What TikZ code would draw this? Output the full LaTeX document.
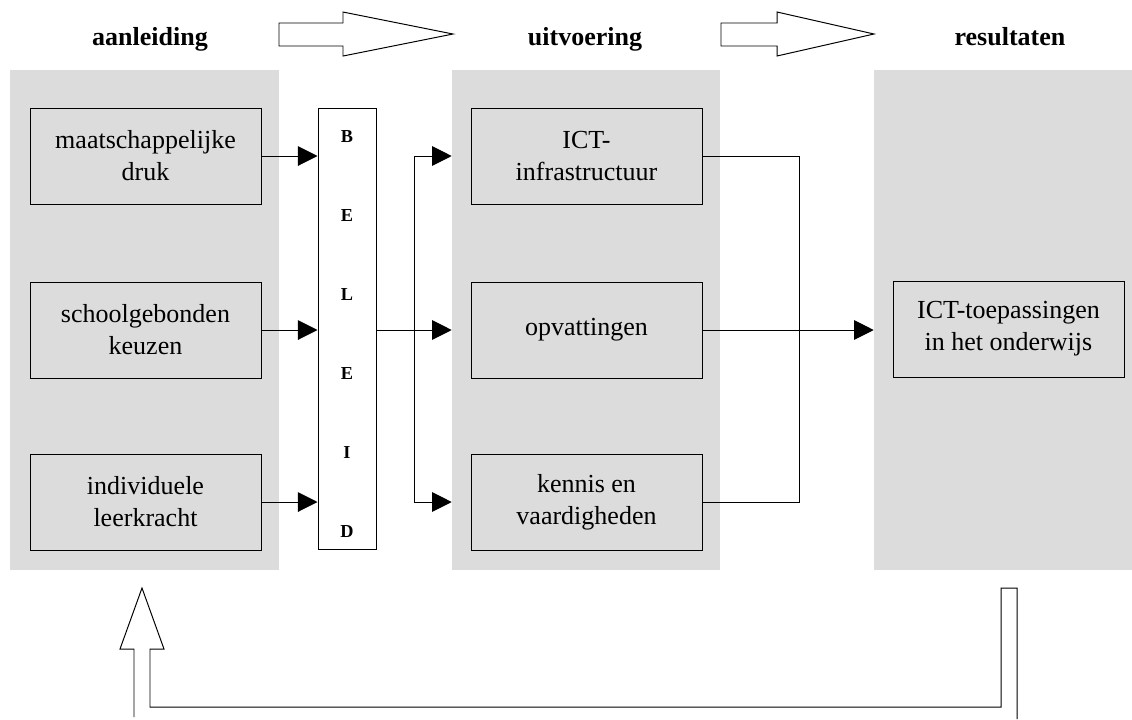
\documentclass[tikz,border=0pt]{standalone}
\usepackage{fontspec}
\setmainfont{Liberation Serif}
\usetikzlibrary{positioning, arrows.meta, calc}
\definecolor{paneelgrijs}{RGB}{220,220,220}
\def\eenh{0.025cm}
\newcommand\bloktekst{\fontsize{18.5pt}{22.8pt}\selectfont}
\newcommand\koptekst{\bfseries\fontsize{18.5pt}{22pt}\selectfont}
\newcommand\lettertekst{\bfseries\fontsize{13pt}{15pt}\selectfont}

\begin{document}
\begin{tikzpicture}[x=\eenh, y=-\eenh,
    paneel/.style={fill=paneelgrijs, inner sep=0pt, minimum height=500*\eenh},
    blok/.style={draw, fill=paneelgrijs, line width=0.7pt, inner sep=0pt, minimum width=231*\eenh, minimum height=96*\eenh, align=center, font=\bloktekst},
    kop/.style={font=\koptekst, anchor=base},
    lijn/.style={line width=0.7pt},
    pijl/.style={-{Triangle[length=14pt, width=14pt]}, line width=0.7pt},
    tweepijl/.style={{Triangle[length=14pt, width=14pt]}-{Triangle[length=14pt, width=14pt]}, line width=0.7pt}]
    \useasboundingbox (0,0) rectangle (1132,719);

    % Grijze panelen
    \node[paneel, minimum width=269*\eenh] (aanl) at (144.5,320) {};
    \node[paneel, minimum width=268*\eenh] (uitv) at (586,320) {};
    \node[paneel, minimum width=258*\eenh] (res) at (1003,320) {};

    % Koppen
    \node[kop] (kop1) at (150,45) {aanleiding};
    \node[kop] (kop2) at (585,45) {uitvoering};
    \node[kop] (kop3) at (1010,45) {resultaten};

    % Open pijlen tussen de koppen
    \draw[lijn, fill=white] (279,23) -- (343,23) -- (343,12) -- (453,34) -- (343,56) -- (343,46) -- (279,46) -- cycle;
    \draw[lijn, fill=white] (721,23) -- (777,23) -- (777,12) -- (874,34) -- (777,56) -- (777,46) -- (721,46) -- cycle;

    % Aanleiding
    \node[blok] (druk) at (145.5,156) {maatschappelijke\\druk};
    \node[blok] (school) at (145.5,330) {schoolgebonden\\keuzen};
    \node[blok] (leerkr) at (145.5,502) {individuele\\leerkracht};

    % Uitvoering
    \node[blok] (ict) at (586.5,156) {ICT-\\infrastructuur};
    \node[blok] (opv) at (586.5,330) {opvattingen};
    \node[blok] (kennis) at (586.5,502) {kennis en\\vaardigheden};

    % Resultaten
    \node[blok] (toep) at (1008.5,329) {ICT-toepassingen\\in het onderwijs};

    % Beleid
    \node[draw, fill=white, line width=0.7pt, inner sep=0pt, minimum width=58*\eenh, minimum height=441*\eenh] (beleid) at (347,328.5) {};
    \foreach \l [count=\i from 0] in {B,E,L,E,I,D}
        \node[font=\lettertekst] (letter\i) at ($(beleid.north)+(0,29+79*\i)$) {\l};

    % Pijlen naar beleid
    \draw[pijl] (druk.east) -- (druk.east -| beleid.west);
    \draw[pijl] (school.east) -- (school.east -| beleid.west);
    \draw[pijl] (leerkr.east) -- (leerkr.east -| beleid.west);

    % Van beleid naar uitvoering
    \coordinate (splits) at (414,330);
    \draw[pijl] (beleid.east |- opv.west) -- (uitv.west |- opv.west);
    \draw[tweepijl] (uitv.west |- ict.west) -- (splits |- ict.west) -- (splits |- kennis.west) -- (uitv.west |- kennis.west);

    % Van uitvoering naar resultaten
    \coordinate (samen) at (799,330);
    \draw[lijn] (ict.east) -- (samen |- ict.east) -- (samen |- kennis.east) -- (kennis.east);
    \draw[pijl] (opv.east) -- (res.west |- opv.east);

    % Terugkoppeling
    \draw[lijn] (134,717) -- (134,649) -- (120,649) -- (142,588) -- (164,649) -- (150,649) -- (150,707)
        -- (1001,707) -- (1001,588) -- (1017,588) -- (1017,719);
\end{tikzpicture}
\end{document}
